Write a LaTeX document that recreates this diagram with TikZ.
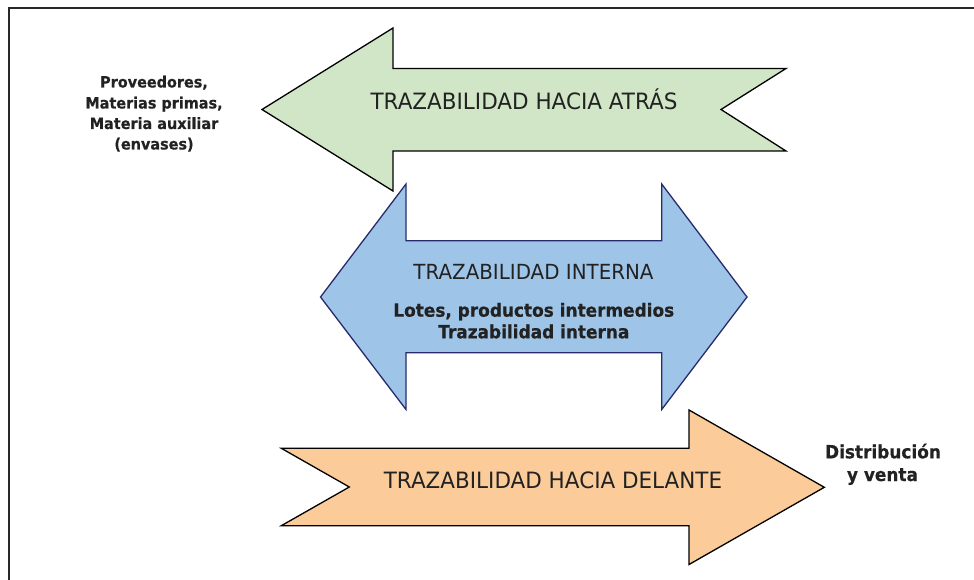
\documentclass[tikz,border=0pt]{standalone}
\usepackage{fontspec}
\newfontfamily\regf[FakeStretch=0.955]{DejaVu Sans}
\newfontfamily\boldf[FakeStretch=0.93,FakeBold=0.5]{DejaVu Sans Bold}
\definecolor{txt}{RGB}{34,34,34}
\definecolor{frame}{RGB}{40,40,40}
\definecolor{greenfill}{RGB}{208,230,198}
\definecolor{bluefill}{RGB}{158,197,232}
\definecolor{blueline}{RGB}{40,42,110}
\definecolor{orangefill}{RGB}{251,204,154}
\tikzset{
  arrowshape/.style={line width=1.3pt, line join=miter},
  bigtxt/.style={inner sep=0pt, anchor=base, text=txt, font=\regf\fontsize{22.5}{27}\selectfont},
  midtxt/.style={inner sep=0pt, anchor=base, text=txt, font=\regf\fontsize{20.8}{25}\selectfont},
  boldtxt/.style={inner sep=0pt, anchor=base, text=txt, font=\boldf\fontsize{18.2}{22}\selectfont},
  sidetxt/.style={inner sep=0pt, anchor=base, text=txt, font=\boldf\fontsize{15.5}{20.7}\selectfont},
}
\begin{document}
\begin{tikzpicture}[x=1pt,y=-1pt]
\useasboundingbox (0,0) rectangle (974,580);
% frame
\draw[frame, line width=2pt] (974,8.5) -- (8.5,8.5) -- (8.5,580);
% backward arrow (green)
\draw[arrowshape, fill=greenfill, draw=black]
  (786,68.5) -- (393,68.5) -- (393,28) -- (262,109.5) -- (393,191) -- (393,151) -- (786,151) -- (721,109.5) -- cycle;
% internal double arrow (blue)
\draw[arrowshape, fill=bluefill, draw=blueline]
  (320.5,297) -- (406,184) -- (406,240.7) -- (661.7,240.7) -- (661.7,184) -- (747,297)
  -- (661.7,409.5) -- (661.7,352.7) -- (406,352.7) -- (406,409.5) -- cycle;
% forward arrow (orange)
\draw[arrowshape, fill=orangefill, draw=black]
  (281.3,448.3) -- (689,448.3) -- (689,410) -- (824.3,487.3) -- (689,564.5) -- (689,525.7)
  -- (281.3,525.7) -- (349.3,487) -- cycle;
% texts
\node[bigtxt] (atras) at (524,110) {TRAZABILIDAD HACIA ATRÁS};
\node[midtxt] (interna) at (533.5,279.3) {TRAZABILIDAD INTERNA};
\node[boldtxt] (lotes) at (533.8,316.7) {Lotes, productos intermedios};
\node[boldtxt] (trint) at (533.8,338.3) {Trazabilidad interna};
\node[bigtxt] (delante) at (553,488.3) {TRAZABILIDAD HACIA DELANTE};
\node[boldtxt] (distr) at (883,458.3) {Distribución};
\node[boldtxt] (venta) at (882.5,481) {y venta};
\node[sidetxt] (prov) at (154,87.5) {Proveedores,};
\node[sidetxt] (mprim) at (154,108.5) {Materias primas,};
\node[sidetxt] (maux) at (154,129) {Materia auxiliar};
\node[sidetxt] (env) at (154,149.5) {(envases)};
\end{tikzpicture}
\end{document}
